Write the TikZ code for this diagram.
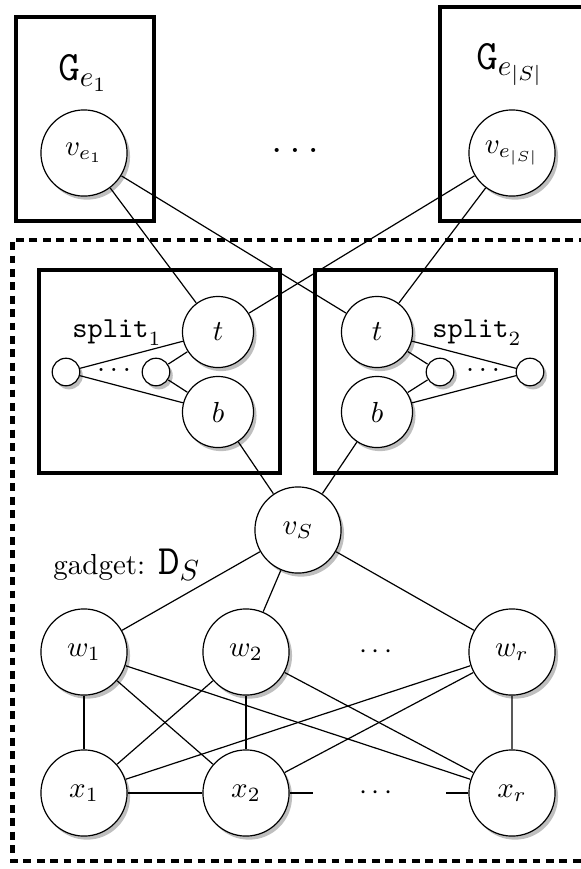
\documentclass[tikz,border=0pt]{standalone}
\usepackage{tikz}
\usetikzlibrary{shadows}
\usetikzlibrary{positioning}
\usetikzlibrary{calc}

\begin{document}
\begin{tikzpicture}[x = 0.5pt,
                    y = -0.5pt,
                    semithick,
                    label text/.style = {scale = 1.45},
                    vertex/.style = {circle, draw = black, fill = white, inner sep = 0pt, scale = 1.45,
                                     drop shadow = {shadow xshift = 1.5pt, shadow yshift = -1.8pt, fill = black!25, opacity = 1}},
                    bigvertex/.style = {vertex, minimum size = 29.7pt},
                    midvertex/.style = {vertex, minimum size = 24.5pt},
                    smallvertex/.style = {vertex, minimum size = 9.5pt},
                    gadgetbox/.style = {draw, line width = 2pt},
                    gadgetborder/.style = {draw, line width = 2.2pt, dash pattern = on 3.9pt off 2.8pt}]
    \clip (0,0) rectangle (581,869);

    % Draw the frames of the gadgets:
    \draw [gadgetbox] (16,17) rectangle (154,221);
    \draw [gadgetbox] (440,7) rectangle (590,221);
    \draw [gadgetbox] (39,270) rectangle (280,473);
    \draw [gadgetbox] (315,270) rectangle (556,473);
    \draw [gadgetborder] (600,240) -- (12.5,240) -- (12.5,861) -- (600,861);

    % Draw the edge gadgets:
    \node [label text] (G1) at (83,73) {\Large $\mathtt{G}_{e_1}$};
    \node [label text] (GS) at (510,65) {\Large $\mathtt{G}_{e_{|S|}}$};
    \node [bigvertex] (ve1) at (84,153) {$v_{e_1}$};
    \node [bigvertex] (veS) at (512,153) {$v_{e_{|S|}}$};
    \node [label text] (topdots) at (295,150) {\Large $\dots$};

    % Draw the split gadgets:
    \node [label text] (split1) at (117,333) {$\texttt{split}_1$};
    \node [midvertex] (t1) at (218,332) {$t$};
    \node [midvertex] (b1) at (218,412) {$b$};
    \node [smallvertex] (s1a) at (66,372) {};
    \node [smallvertex] (s1b) at (156,372) {};
    \node [label text] (s1dots) at (114,370) {$\dots$};

    \node [label text] (split2) at (477,333) {$\texttt{split}_2$};
    \node [midvertex] (t2) at (377,332) {$t$};
    \node [midvertex] (b2) at (377,412) {$b$};
    \node [smallvertex] (s2a) at (440,372) {};
    \node [smallvertex] (s2b) at (530,372) {};
    \node [label text] (s2dots) at (483,370) {$\dots$};

    % Draw the set vertex and the two rows below it:
    \node [bigvertex] (vS) at (298,530) {$v_S$};
    \node [label text] (gadget) at (127,565) {gadget: \Large $\mathtt{D}_S$};
    \foreach \name/\xpos/\label in {1/84/1, 2/246/2, r/512/r} {
        \node [bigvertex] (w\name) at (\xpos,652) {$w_{\label}$};
        \node [bigvertex] (x\name) at (\xpos,793) {$x_{\label}$};
    }
    \node [label text] (wdots) at (376,652) {$\cdots$};
    \node [label text] (xdots) at (376,793) {$\cdots$};
    \coordinate (x2end) at (313,793);
    \coordinate (xrend) at (446,793);

    % Draw the edges:
    \foreach \from/\to in {ve1/t1, ve1/t2, veS/t1, veS/t2,
                           t1/s1a, t1/s1b, b1/s1a, b1/s1b,
                           t2/s2a, t2/s2b, b2/s2a, b2/s2b,
                           b1/vS, b2/vS, vS/w1, vS/w2, vS/wr,
                           x1/x2, x2/x2end, xrend/xr}
        \draw (\from) -- (\to);
    \foreach \w in {w1, w2, wr}
        \foreach \x in {x1, x2, xr}
            \draw (\w) -- (\x);
\end{tikzpicture}
\end{document}
